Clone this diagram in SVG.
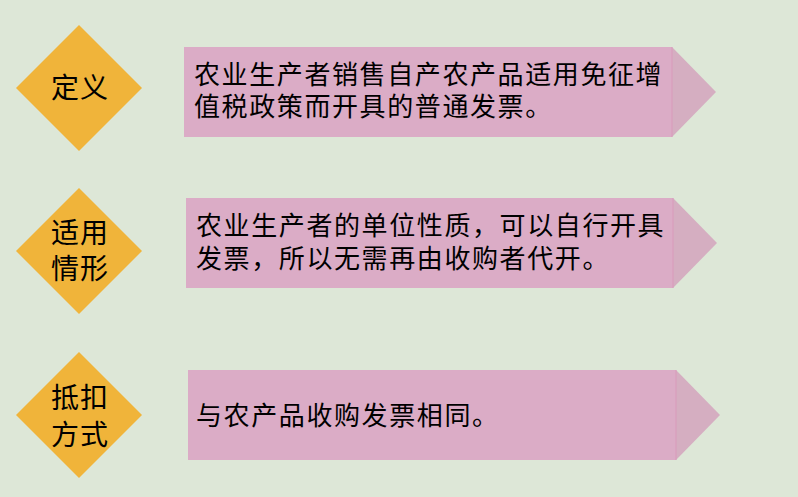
<svg xmlns="http://www.w3.org/2000/svg" width="798" height="497" viewBox="0 0 798 497">
<style>
.bg{fill:#dde7d7}
.dia{fill:#f0b43a}
.box{fill:#dbacc6}
.tip{fill:#d5aec1}
.edge{stroke:#d99abb;stroke-width:1}
text{font-family:"Noto Sans CJK SC","Noto Sans CJK TC",sans-serif;font-size:26px;fill:#000;letter-spacing:1.6px}
.c{text-anchor:middle;font-size:28px;letter-spacing:1px}
</style>
<rect class="bg" x="0" y="0" width="798" height="497"/>
<g id="node-def">
<polygon class="dia" points="79,25 142,88 79,151 16,88"/>
<text class="c" x="80" y="98">定义</text>
</g>
<g id="node-def-text">
<rect class="box" x="184" y="47" width="488" height="90"/>
<polygon class="tip" points="672,47 716,92 672,137"/>
<line class="edge" x1="672" y1="47" x2="672" y2="137"/>
<text x="194" y="84">农业生产者销售自产农产品适用免征增<tspan x="194" dy="32">值税政策而开具的普通发票。</tspan></text>
</g>
<g id="node-use">
<polygon class="dia" points="79,188 142,251 79,314 16,251"/>
<text class="c" x="80" y="243">适用<tspan x="80" dy="36">情形</tspan></text>
</g>
<g id="node-use-text">
<rect class="box" x="186" y="198" width="487" height="90"/>
<polygon class="tip" points="673,198 717,243 673,288"/>
<line class="edge" x1="673" y1="198" x2="673" y2="288"/>
<text x="196" y="235">农业生产者的单位性质，可以自行开具<tspan x="196" dy="33">发票，所以无需再由收购者代开。</tspan></text>
</g>
<g id="node-ded">
<polygon class="dia" points="79,352 142,415 79,478 16,415"/>
<text class="c" x="80" y="408">抵扣<tspan x="80" dy="37">方式</tspan></text>
</g>
<g id="node-ded-text">
<rect class="box" x="188" y="370" width="488" height="90"/>
<polygon class="tip" points="676,370 720,415 676,460"/>
<line class="edge" x1="676" y1="370" x2="676" y2="460"/>
<text x="196" y="425">与农产品收购发票相同。</text>
</g>
<g id="connectors"></g>
</svg>
